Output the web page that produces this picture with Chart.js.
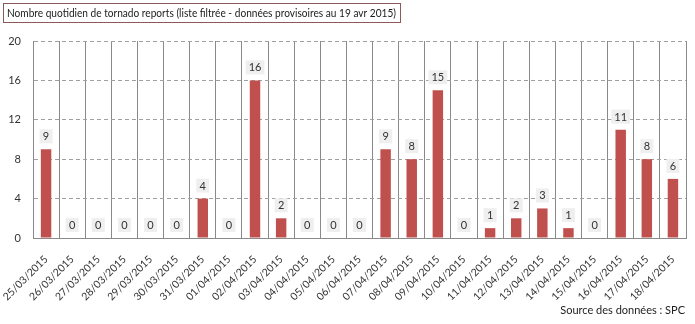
<!DOCTYPE html>
<html>
<head>
<meta charset="utf-8">
<script src="https://cdn.jsdelivr.net/npm/chart.js@4/dist/chart.umd.min.js"></script>
<style>
  html, body { margin: 0; padding: 0; background: #fff; }
  #wrap { width: 695px; height: 324px; position: relative; }
</style>
</head>
<body>
<div id="wrap"><canvas id="c" width="695" height="324"></canvas></div>
<script>
// Daily tornado report counts (filtered list, provisional data as of 19 Apr 2015)
const dates = [
  '25/03/2015','26/03/2015','27/03/2015','28/03/2015','29/03/2015','30/03/2015',
  '31/03/2015','01/04/2015','02/04/2015','03/04/2015','04/04/2015','05/04/2015',
  '06/04/2015','07/04/2015','08/04/2015','09/04/2015','10/04/2015','11/04/2015',
  '12/04/2015','13/04/2015','14/04/2015','15/04/2015','16/04/2015','17/04/2015',
  '18/04/2015'
];
const reports = [9,0,0,0,0,0,4,0,16,2,0,0,0,9,8,15,0,1,2,3,1,0,11,8,6];
const yTicks = [0,4,8,12,16,20];

const titleText = 'Nombre quotidien de tornado reports (liste filtrée - données provisoires au 19 avr 2015)';
const sourceText = 'Source des données : SPC';

const FONT = 'Lato, "Open Sans", "DejaVu Sans", sans-serif';

// Boxed title in the top-left corner and the source note bottom-right
const decorations = {
  id: 'decorations',
  afterDraw(chart) {
    const ctx = chart.ctx;
    ctx.save();
    ctx.font = '12px ' + FONT;
    const w = ctx.measureText(titleText).width;
    const target = 389;
    ctx.strokeStyle = '#8c5a5a';
    ctx.lineWidth = 1;
    ctx.strokeRect(3.5, 3.5, 397, 19);
    ctx.fillStyle = '#1a1a1a';
    ctx.textBaseline = 'middle';
    ctx.textAlign = 'left';
    ctx.save();
    ctx.translate(7, 13);
    ctx.scale(target / w, 1);
    ctx.fillText(titleText, 0, 0);
    ctx.restore();
    ctx.font = '11px ' + FONT;
    ctx.fillStyle = '#222';
    ctx.textAlign = 'right';
    ctx.fillText(sourceText, 685, 310);
    ctx.restore();
  }
};

// Value boxes above each bar
const valueLabels = {
  id: 'valueLabels',
  afterDatasetsDraw(chart) {
    const ctx = chart.ctx;
    const meta = chart.getDatasetMeta(0);
    ctx.save();
    ctx.font = '11px ' + FONT;
    ctx.textAlign = 'center';
    ctx.textBaseline = 'middle';
    meta.data.forEach((bar, i) => {
      const txt = String(reports[i]);
      const tw = ctx.measureText(txt).width;
      const bw = Math.max(13, tw + 6);
      const cy = bar.y - 13;
      ctx.fillStyle = '#efefef';
      ctx.fillRect(bar.x - bw / 2, cy - 7, bw, 14);
      ctx.fillStyle = '#333';
      ctx.fillText(txt, bar.x, cy + 0.5);
    });
    ctx.restore();
  }
};

new Chart(document.getElementById('c'), {
  type: 'bar',
  data: {
    labels: dates,
    datasets: [{
      data: reports,
      backgroundColor: '#c0504d',
      borderWidth: 0,
      barPercentage: 0.4,
      categoryPercentage: 1.0
    }]
  },
  options: {
    responsive: false,
    animation: false,
    events: [],
    layout: { padding: { top: 41, right: 9, left: 0, bottom: 0 } },
    plugins: {
      legend: { display: false },
      tooltip: { enabled: false }
    },
    scales: {
      x: {
        offset: true,
        grid: {
          offset: true,
          color: '#8a8a8a',
          lineWidth: 1,
          drawTicks: false
        },
        border: { color: '#8a8a8a' },
        ticks: {
          autoSkip: false,
          maxRotation: 45,
          minRotation: 45,
          color: '#333',
          padding: 15,
          font: { family: FONT, size: 10.5 }
        },
        afterFit(scale) {
          scale.height = 86;
          scale.paddingLeft = 0;
          scale.paddingRight = 0;
        }
      },
      y: {
        min: 0,
        max: 20,
        afterBuildTicks(scale) { scale.ticks = yTicks.map(v => ({ value: v })); },
        grid: {
          color: '#a0a0a0',
          drawTicks: false
        },
        border: { color: '#8a8a8a', dash: [4, 3] },
        ticks: {
          color: '#333',
          padding: 12,
          font: { family: FONT, size: 11 }
        },
        afterFit(scale) {
          scale.width = 33;
          scale.paddingTop = 0;
          scale.paddingBottom = 0;
        }
      }
    }
  },
  plugins: [decorations, valueLabels]
});
</script>
</body>
</html>
